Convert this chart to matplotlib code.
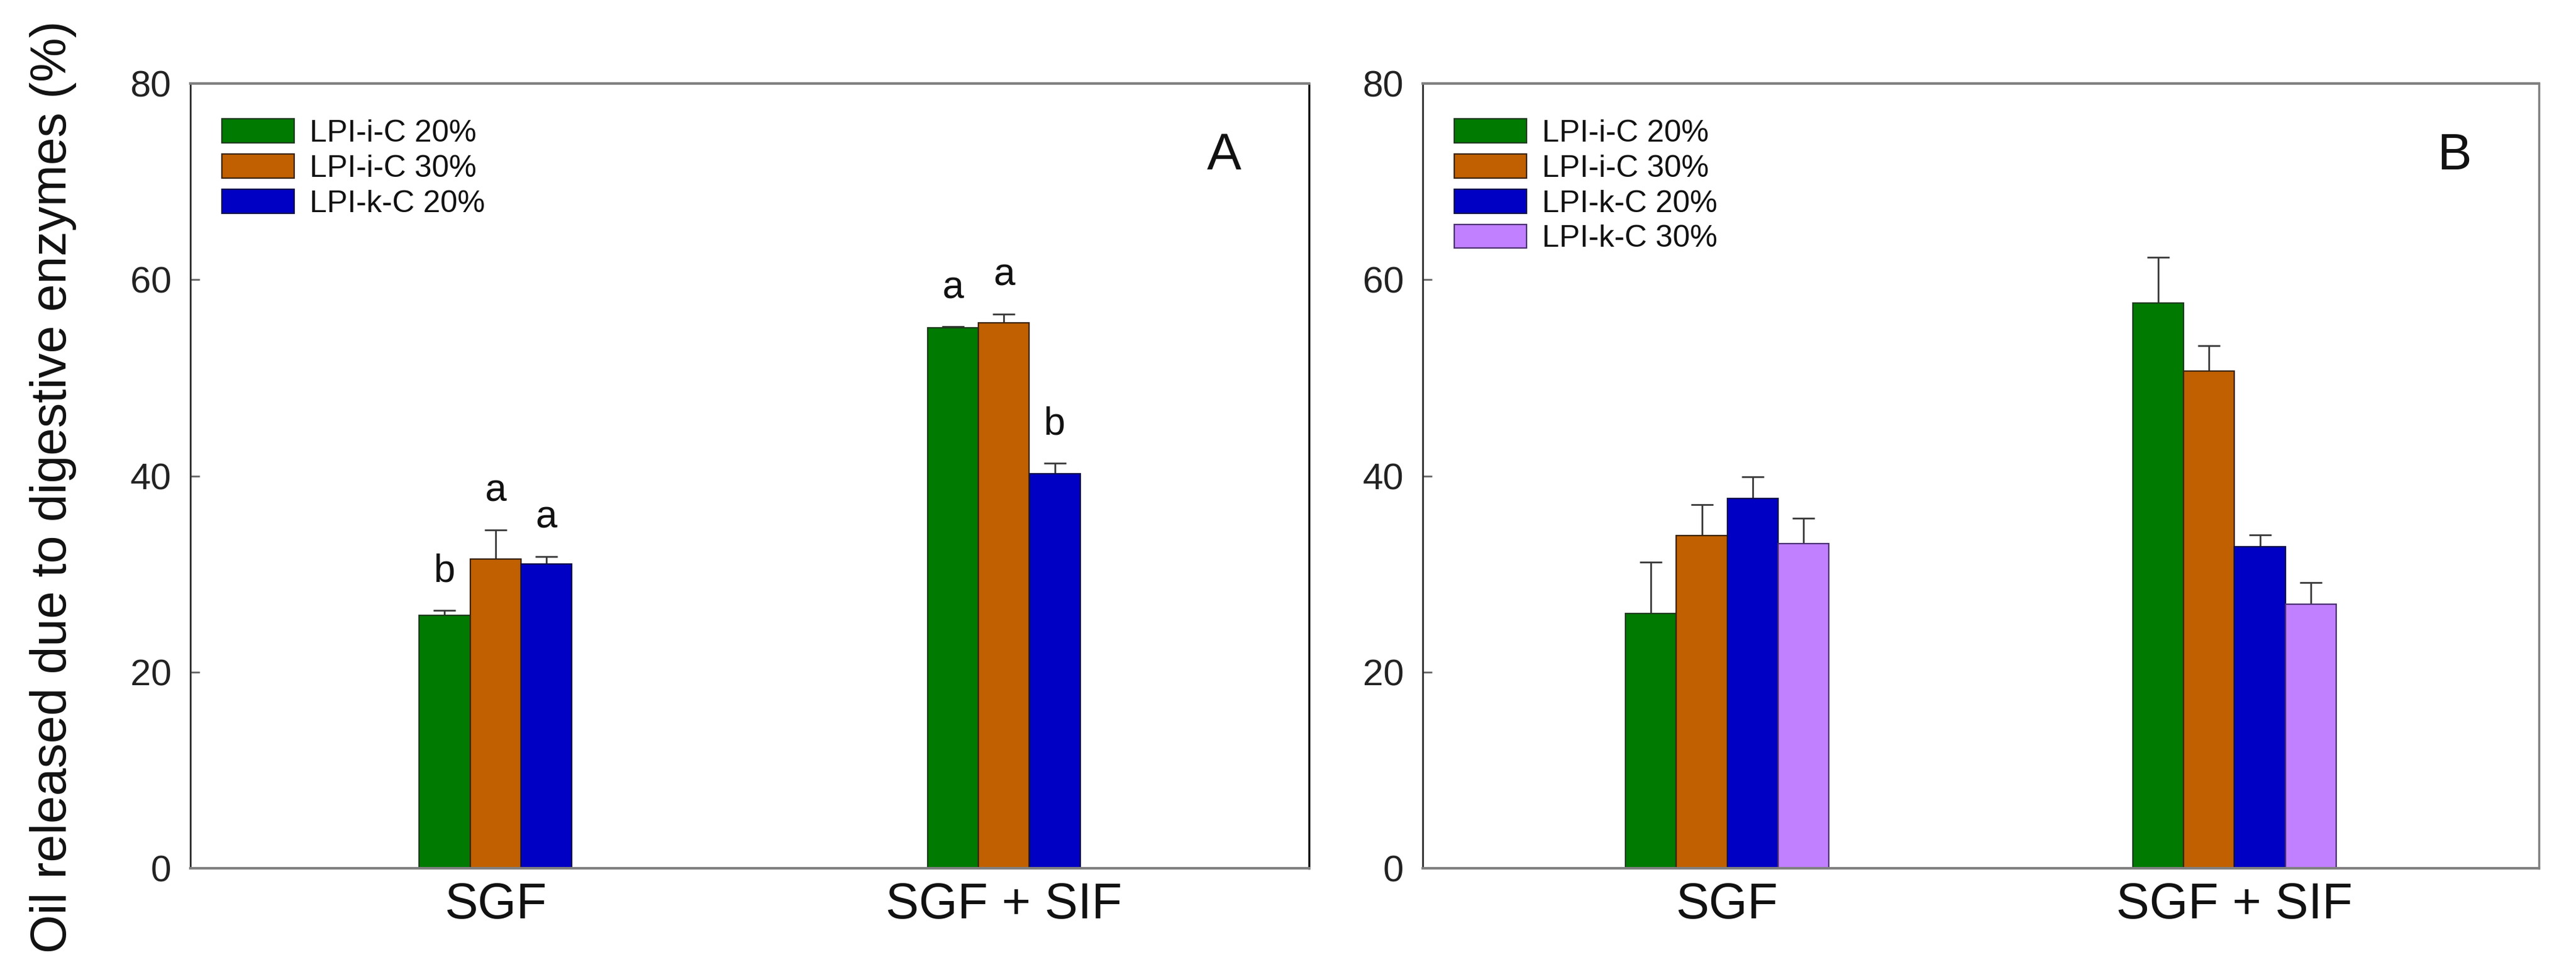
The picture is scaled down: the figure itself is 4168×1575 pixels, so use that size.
import matplotlib
matplotlib.use("Agg")
import matplotlib.pyplot as plt
from matplotlib import font_manager
import numpy as np

# ---------------- data ----------------
categories = ["SGF", "SGF + SIF"]

series_A = ["LPI-i-C 20%", "LPI-i-C 30%", "LPI-k-C 20%"]
values_A = [[25.8, 55.1],   # LPI-i-C 20%
            [31.5, 55.6],   # LPI-i-C 30%
            [31.0, 40.2]]   # LPI-k-C 20%
errors_A = [[0.5, 0.1],
            [3.0, 0.9],
            [0.8, 1.1]]
letters_A = [["b", "a"],
             ["a", "a"],
             ["a", "b"]]

series_B = ["LPI-i-C 20%", "LPI-i-C 30%", "LPI-k-C 20%", "LPI-k-C 30%"]
values_B = [[26.0, 57.6],
            [33.9, 50.7],
            [37.7, 32.8],
            [33.1, 26.9]]
errors_B = [[5.2, 4.7],
            [3.2, 2.6],
            [2.2, 1.2],
            [2.6, 2.2]]

colors = ["#007A00", "#C06000", "#0000C4", "#C080FF"]
edgecolors = ["#1E3A1E", "#3A2410", "#10104A", "#4A3070"]

yticks = [0, 20, 40, 60, 80]
ylabel = "Oil released due to digestive enzymes (%)"

# ---------------- font ----------------
def pick_font():
    for name in ["Liberation Sans Narrow", "Arial Narrow", "Liberation Sans"]:
        try:
            font_manager.findfont(name, fallback_to_default=False)
            return name
        except Exception:
            pass
    return "DejaVu Sans"

FONT = pick_font()
plt.rcParams["font.family"] = [FONT, "DejaVu Sans"]

W, H = 4168, 1575
fig = plt.figure(figsize=(W / 100, H / 100), dpi=100)

axA = fig.add_axes([308 / W, 1 - 1404 / H, (2118 - 308) / W, (1404 - 135) / H])
axB = fig.add_axes([2302 / W, 1 - 1404 / H, (4108 - 2302) / W, (1404 - 135) / H])

bar_w = 0.1
xpos = np.arange(1, len(categories) + 1)


def draw_panel(ax, series, values, errors, letters, panel_letter, right_color):
    n = len(series)
    offsets = (np.arange(n) - (n - 1) / 2) * bar_w
    for i in range(n):
        x = xpos + offsets[i]
        ax.bar(x, values[i], width=bar_w, color=colors[i],
               edgecolor=edgecolors[i], linewidth=1.6, label=series[i], zorder=2)
        ax.errorbar(x, values[i], yerr=[np.zeros(len(values[i])), errors[i]],
                    fmt="none", ecolor="#3a3a3a", elinewidth=2.0, capsize=13,
                    capthick=2.0, zorder=1)
        if letters is not None:
            for j in range(len(x)):
                ax.text(x[j], values[i][j] + errors[i][j] + 2.9, letters[i][j],
                        ha="center", va="baseline", fontsize=45, color="#111111")
    ax.set_xlim(0.4, 2.6)
    ax.set_ylim(0, 80)
    ax.set_yticks(yticks)
    ax.set_yticklabels([str(t) for t in yticks])
    ax.set_xticks(xpos)
    ax.set_xticklabels(categories)
    ax.tick_params(axis="y", direction="in", length=11, width=2, color="#666666",
                   labelsize=43, pad=22, labelcolor="#222222")
    ax.tick_params(axis="x", length=0, labelsize=58, pad=16, labelcolor="#111111")
    for s in ["top", "bottom"]:
        ax.spines[s].set_color("#808080")
        ax.spines[s].set_linewidth(3)
    ax.spines["left"].set_color("#2a2a2a")
    ax.spines["left"].set_linewidth(2)
    ax.spines["right"].set_color(right_color)
    ax.spines["right"].set_linewidth(2.5)
    leg = ax.legend(loc="upper left", bbox_to_anchor=(0.028, 0.955), frameon=False,
                    fontsize=36, handlelength=2.35, handleheight=0.82,
                    handletextpad=0.5, labelspacing=0.2, borderpad=0,
                    borderaxespad=0)
    for t in leg.get_texts():
        t.set_color("#111111")
    ax.text(0.924, 0.908, panel_letter, transform=ax.transAxes, ha="center",
            va="center", fontsize=60, color="#111111")


draw_panel(axA, series_A, values_A, errors_A, letters_A, "A", "#111111")
draw_panel(axB, series_B, values_B, errors_B, None, "B", "#808080")

fig.text(86 / W, 0.5, ylabel, rotation=90, ha="center", va="center",
         fontsize=58, color="#111111")

fig.savefig("out.png", dpi=100, facecolor="white")
